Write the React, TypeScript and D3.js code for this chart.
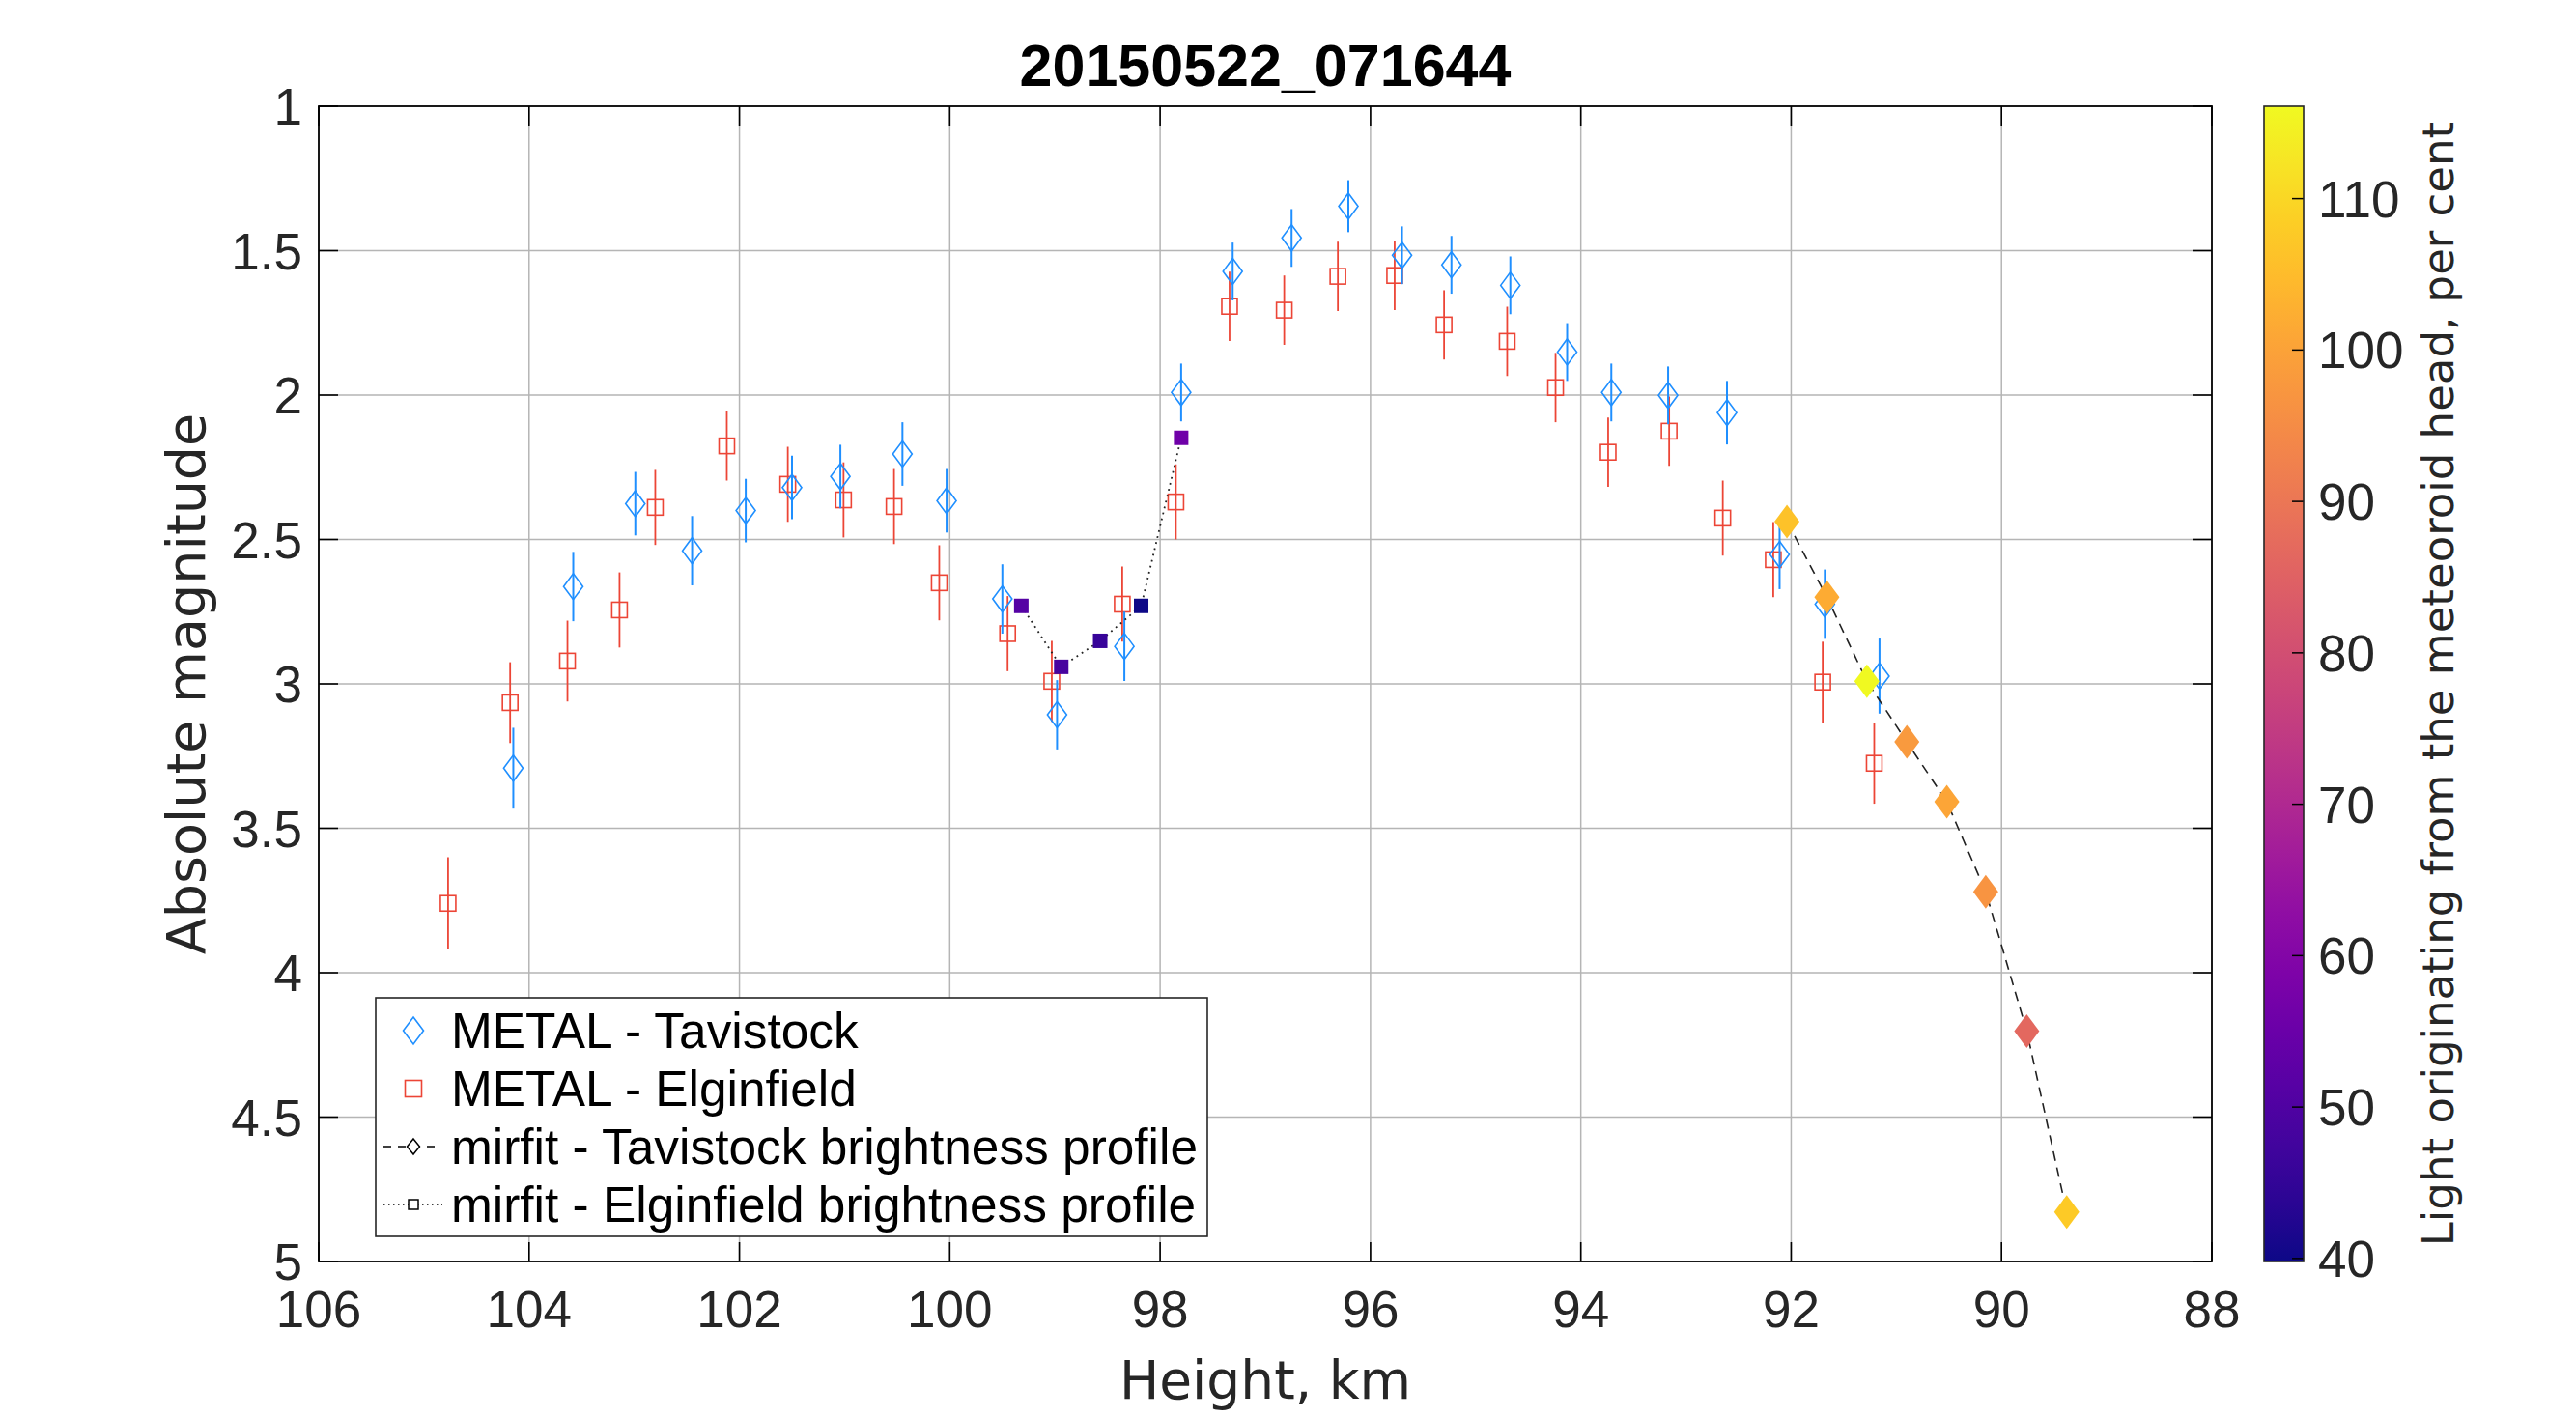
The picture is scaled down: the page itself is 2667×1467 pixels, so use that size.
import React from "react";
import * as d3 from "d3";

// ---------- data ----------
const title = "20150522_071644";
const xTicks = [106, 104, 102, 100, 98, 96, 94, 92, 90, 88];
const yTicks = [1, 1.5, 2, 2.5, 3, 3.5, 4, 4.5, 5];
const cTicks = [40, 50, 60, 70, 80, 90, 100, 110];
const cDomain = [39.8, 116.1];

// METAL - Tavistock: height (km), magnitude, error
const tavH = [104.15, 103.58, 102.99, 102.45, 101.94, 101.5, 101.04, 100.45, 100.03, 99.5, 98.98, 98.34, 97.8, 97.31, 96.75, 96.21, 95.7, 95.23, 94.67, 94.13, 93.71, 93.17, 92.61, 92.11, 91.68, 91.16];
const tavM = [3.292, 2.663, 2.376, 2.539, 2.4, 2.32, 2.282, 2.204, 2.366, 2.706, 3.107, 2.87, 1.991, 1.572, 1.456, 1.346, 1.516, 1.549, 1.62, 1.851, 1.991, 2.001, 2.061, 2.552, 2.724, 2.973];
const tavE = [0.14, 0.12, 0.11, 0.12, 0.11, 0.11, 0.11, 0.11, 0.11, 0.12, 0.12, 0.12, 0.1, 0.1, 0.1, 0.09, 0.1, 0.1, 0.1, 0.1, 0.1, 0.1, 0.11, 0.12, 0.12, 0.13];

// METAL - Elginfield
const elgH = [104.77, 104.18, 103.635, 103.14, 102.8, 102.12, 101.54, 101.01, 100.53, 100.1, 99.45, 99.03, 98.36, 97.85, 97.34, 96.82, 96.31, 95.77, 95.3, 94.7, 94.24, 93.74, 93.16, 92.65, 92.17, 91.7, 91.21];
const elgM = [3.76, 3.065, 2.921, 2.744, 2.389, 2.176, 2.309, 2.363, 2.386, 2.65, 2.826, 2.991, 2.724, 2.37, 1.693, 1.706, 1.589, 1.586, 1.757, 1.814, 1.974, 2.198, 2.125, 2.426, 2.57, 2.994, 3.275];
const elgE = [0.16, 0.14, 0.14, 0.13, 0.13, 0.12, 0.13, 0.13, 0.13, 0.13, 0.13, 0.14, 0.13, 0.13, 0.12, 0.12, 0.12, 0.12, 0.12, 0.12, 0.12, 0.12, 0.12, 0.13, 0.13, 0.14, 0.14];

// mirfit - Tavistock brightness profile
const mtH = [92.04, 91.66, 91.28, 90.9, 90.52, 90.15, 89.76, 89.38];
const mtM = [2.438, 2.7, 2.991, 3.201, 3.408, 3.72, 4.202, 4.829];
const mtP = [106, 101.5, 116.1, 98, 100.5, 97, 86.5, 107.5];

// mirfit - Elginfield brightness profile
const meH = [99.32, 98.94, 98.57, 98.18, 97.8];
const meM = [2.73, 2.941, 2.851, 2.73, 2.148];
const meP = [51, 48.5, 45.5, 39.8, 56];

const legendLabels = [
  "METAL - Tavistock",
  "METAL - Elginfield",
  "mirfit - Tavistock brightness profile",
  "mirfit - Elginfield brightness profile",
];

// ---------- layout ----------
const W = 2667;
const H = 1467;
const L = 330, R = 2290, T = 110, B = 1306;
const CB0 = 2344, CB1 = 2385;

const BLUE = "#1f8fff";
const RED = "#ec4536";
const TXT = "#262626";
const ARIAL = "'Liberation Sans', Arial, Helvetica, sans-serif";
const WIDE = "'DejaVu Sans', Verdana, sans-serif";

const diamond = (w: number, h: number) => `M0,${-h}L${w},0L0,${h}L${-w},0Z`;

export default function App() {
  const x = d3.scaleLinear().domain([106, 88]).range([L, R]);
  const y = d3.scaleLinear().domain([1, 5]).range([T, B]);
  const color = d3.scaleSequential(d3.interpolatePlasma).domain(cDomain as [number, number]);
  const cy = d3.scaleLinear().domain(cDomain).range([B, T]);

  const line = d3.line<[number, number]>().x((d) => x(d[0])).y((d) => y(d[1]));
  const mtLine = line(mtH.map((h, i) => [h, mtM[i]]));
  const meLine = line(meH.map((h, i) => [h, meM[i]]));

  const stops = d3.range(0, 1.0001, 0.05);
  const TL = 20;

  const legX = 389, legY = 1033, legW = 861, legH = 247;
  const rowY = [1067, 1127, 1187, 1247];
  const iconX = 428;

  return (
    <svg width={W} height={H} style={{ position: "absolute", left: 0, top: 0, background: "#fff" }}>
      <defs>
        <linearGradient id="cbar" x1="0" y1="1" x2="0" y2="0">
          {stops.map((s) => (
            <stop key={s} offset={s} stopColor={d3.interpolatePlasma(s)} />
          ))}
        </linearGradient>
        <clipPath id="plotclip">
          <rect x={L} y={T} width={R - L} height={B - T} />
        </clipPath>
      </defs>
      <rect x={0} y={0} width={W} height={H} fill="#fff" />
      <rect x={L} y={T} width={R - L} height={B - T} fill="#fff" />

      {/* grid */}
      <g stroke="#b5b5b5" strokeWidth={1.5}>
        {xTicks.slice(1, -1).map((v) => (
          <line key={"gx" + v} x1={x(v)} x2={x(v)} y1={T} y2={B} />
        ))}
        {yTicks.slice(1, -1).map((v) => (
          <line key={"gy" + v} x1={L} x2={R} y1={y(v)} y2={y(v)} />
        ))}
      </g>

      {/* ticks */}
      <g stroke="#000" strokeWidth={1.6}>
        {xTicks.map((v) => (
          <g key={"tx" + v}>
            <line x1={x(v)} x2={x(v)} y1={B} y2={B - TL} />
            <line x1={x(v)} x2={x(v)} y1={T} y2={T + TL} />
          </g>
        ))}
        {yTicks.map((v) => (
          <g key={"ty" + v}>
            <line x1={L} x2={L + TL} y1={y(v)} y2={y(v)} />
            <line x1={R} x2={R - TL} y1={y(v)} y2={y(v)} />
          </g>
        ))}
      </g>

      {/* data */}
      <g clipPath="url(#plotclip)">
        {/* Elginfield METAL */}
        {elgH.map((h, i) => (
          <g key={"e" + i} stroke={RED} fill="none">
            <line x1={x(h)} x2={x(h)} y1={y(elgM[i] - elgE[i])} y2={y(elgM[i] + elgE[i])} strokeWidth={1.8} />
            <rect x={x(h) - 8} y={y(elgM[i]) - 8} width={16} height={16} strokeWidth={1.6} />
          </g>
        ))}
        {/* Tavistock METAL */}
        {tavH.map((h, i) => (
          <g key={"t" + i} stroke={BLUE} fill="none">
            <line x1={x(h)} x2={x(h)} y1={y(tavM[i] - tavE[i])} y2={y(tavM[i] + tavE[i])} strokeWidth={2} />
            <path d={diamond(10, 13.5)} transform={`translate(${x(h)},${y(tavM[i])})`} strokeWidth={1.6} />
          </g>
        ))}
        {/* mirfit lines */}
        <path d={mtLine ?? ""} fill="none" stroke="#222" strokeWidth={1.6} strokeDasharray="10 7" />
        <path d={meLine ?? ""} fill="none" stroke="#222" strokeWidth={1.8} strokeDasharray="1.8 4.5" />
        {/* mirfit markers */}
        {meH.map((h, i) => (
          <rect key={"ms" + i} x={x(h) - 7.5} y={y(meM[i]) - 7.5} width={15} height={15} fill={color(meP[i])} />
        ))}
        {mtH.map((h, i) => (
          <path key={"md" + i} d={diamond(13, 17.5)} transform={`translate(${x(h)},${y(mtM[i])})`} fill={color(mtP[i])} />
        ))}
      </g>

      {/* box */}
      <rect x={L} y={T} width={R - L} height={B - T} fill="none" stroke="#000" strokeWidth={1.8} />

      {/* tick labels */}
      <g fontFamily={ARIAL} fontSize={53} fill={TXT}>
        {xTicks.map((v) => (
          <text key={"lx" + v} x={x(v)} y={1374} textAnchor="middle">
            {v}
          </text>
        ))}
        {yTicks.map((v) => (
          <text key={"ly" + v} x={313} y={y(v) + 19} textAnchor="end">
            {v}
          </text>
        ))}
      </g>

      {/* axis labels and title */}
      <text x={(L + R) / 2} y={1448} textAnchor="middle" fontFamily={WIDE} fontSize={55} fill={TXT}>
        Height, km
      </text>
      <text transform={`translate(212,${(T + B) / 2}) rotate(-90)`} textAnchor="middle" fontFamily={WIDE} fontSize={55.5} fill={TXT}>
        Absolute magnitude
      </text>
      <text x={(L + R) / 2} y={89} textAnchor="middle" fontFamily={ARIAL} fontWeight="bold" fontSize={61} fill="#000">
        {title}
      </text>

      {/* legend */}
      <g>
        <rect x={legX} y={legY} width={legW} height={legH} fill="#fff" stroke="#262626" strokeWidth={1.6} />
        <path d={diamond(10.5, 14)} transform={`translate(${iconX},${rowY[0]})`} fill="none" stroke={BLUE} strokeWidth={1.6} />
        <rect x={iconX - 8.5} y={rowY[1] - 8.5} width={17} height={17} fill="none" stroke={RED} strokeWidth={1.6} />
        <line x1={397} x2={456} y1={rowY[2]} y2={rowY[2]} stroke="#000" strokeWidth={1.5} strokeDasharray="8 7" />
        <path d={diamond(6.5, 8)} transform={`translate(${iconX},${rowY[2]})`} fill="#fff" stroke="#000" strokeWidth={1.5} />
        <line x1={397} x2={458} y1={rowY[3]} y2={rowY[3]} stroke="#000" strokeWidth={1.5} strokeDasharray="1.5 3.5" />
        <rect x={iconX - 5} y={rowY[3] - 5} width={10} height={10} fill="#fff" stroke="#000" strokeWidth={1.5} />
        {legendLabels.map((s, i) => (
          <text key={s} x={467} y={rowY[i] + 18} fontFamily={ARIAL} fontSize={51.4} fill="#000">
            {s}
          </text>
        ))}
      </g>

      {/* colorbar */}
      <rect x={CB0} y={T} width={CB1 - CB0} height={B - T} fill="url(#cbar)" />
      <g stroke="#000" strokeWidth={1.5}>
        {cTicks.map((v) => (
          <line key={"ct" + v} x1={CB1} x2={CB1 - 12} y1={cy(v)} y2={cy(v)} />
        ))}
      </g>
      <rect x={CB0} y={T} width={CB1 - CB0} height={B - T} fill="none" stroke="#262626" strokeWidth={1.6} />
      <g fontFamily={ARIAL} fontSize={53} fill={TXT}>
        {cTicks.map((v) => (
          <text key={"cl" + v} x={2400} y={cy(v) + 19}>
            {v}
          </text>
        ))}
      </g>
      <text transform={`translate(2540,${(T + B) / 2}) rotate(-90)`} textAnchor="middle" fontFamily={WIDE} fontSize={45} fill={TXT}>
        Light originating from the meteoroid head, per cent
      </text>
    </svg>
  );
}
